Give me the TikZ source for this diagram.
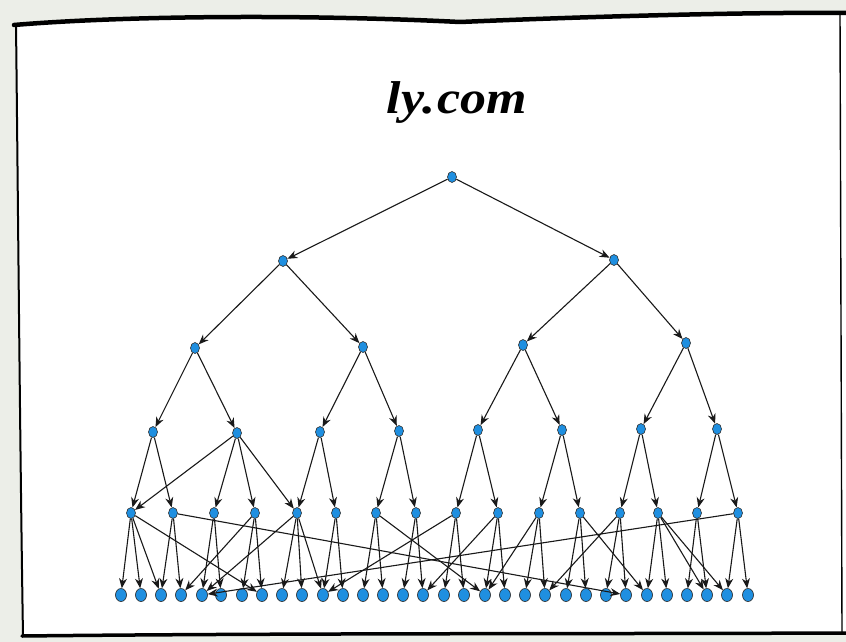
\documentclass[tikz,border=0pt]{standalone}
\usepackage{graphicx}
\usepackage{fontspec}
\newfontfamily\titlefont{Liberation Serif}
\usetikzlibrary{arrows.meta,shapes.geometric}
\definecolor{nodeblue}{HTML}{1F8FE0}
\definecolor{outerbg}{HTML}{ECEEE8}
\begin{document}
\begin{tikzpicture}[x=1pt,y=-1pt,
  vtx/.style={ellipse, draw=black!85, line width=0.6pt, fill=nodeblue, inner sep=0pt, minimum width=9pt, minimum height=11pt},
  leaf/.style={vtx, minimum width=11pt, minimum height=13pt},
  edge/.style={-{Stealth[length=10pt,width=8pt]}, line width=1.1pt, black!90},
  frameline/.style={black, line cap=round, line join=round}]
\useasboundingbox (0,0) rectangle (846,642);
\fill[outerbg] (0,0) rectangle (846,642);
\fill[white] (16,24) .. controls (120,16) and (300,14) .. (460,22) .. controls (600,16) and (760,12) .. (846,13) -- (846,634) -- (23,637) -- cycle;
% frame
\draw[frameline, line width=4.5pt] (14,25) .. controls (120,16) and (300,14) .. (460,22) .. controls (600,16) and (760,12) .. (846,13);
\draw[frameline, line width=2pt] (16,24) .. controls (18,200) and (20,450) .. (23,636);
\draw[frameline, line width=3.5pt] (22,636) .. controls (300,633) and (600,634) .. (846,633);
\draw[frameline, line width=1.4pt] (840,14) -- (842,632);
% title
\node (title) at (457,103) {\scalebox{1.3}[1.15]{\fontsize{40}{48}\selectfont\titlefont\bfseries\itshape ly.\kern2pt com}};
% nodes
\node[vtx] (r) at (452,177) {};
\node[vtx] (a1) at (283,261) {};
\node[vtx] (a2) at (614,260) {};
\foreach \x/\y [count=\i] in {195/348,363/347,523/345,686/343}
  \node[vtx] (b\i) at (\x,\y) {};
\foreach \x/\y [count=\i] in {153/432,237/433,320/432,399/431,478/430,562/430,641/429,717/429}
  \node[vtx] (c\i) at (\x,\y) {};
\foreach \x [count=\i] in {131,173,214,255,297,336,376,416,456,498,539,580,620,658,697,738}
  \node[vtx] (d\i) at (\x,513) {};
\foreach \x [count=\i] in {121,141,161,181,202,221,242,262,282,302,323,343,363,383,403,423,444,464,485,505,525,545,566,586,606,626,647,667,687,707,727,748}
  \node[leaf] (e\i) at (\x,595) {};
% tree edges
\draw[edge] (r) -- (a1);
\draw[edge] (r) -- (a2);
\draw[edge] (a1) -- (b1);
\draw[edge] (a1) -- (b2);
\draw[edge] (a2) -- (b3);
\draw[edge] (a2) -- (b4);
\foreach \i in {1,...,4}{
  \pgfmathtruncatemacro{\ja}{2*\i-1}
  \pgfmathtruncatemacro{\jb}{2*\i}
  \draw[edge] (b\i) -- (c\ja);
  \draw[edge] (b\i) -- (c\jb);
}
\foreach \i in {1,...,8}{
  \pgfmathtruncatemacro{\ja}{2*\i-1}
  \pgfmathtruncatemacro{\jb}{2*\i}
  \draw[edge] (c\i) -- (d\ja);
  \draw[edge] (c\i) -- (d\jb);
}
\foreach \i in {1,...,16}{
  \pgfmathtruncatemacro{\ja}{2*\i-1}
  \pgfmathtruncatemacro{\jb}{2*\i}
  \draw[edge] (d\i) -- (e\ja);
  \draw[edge] (d\i) -- (e\jb);
}
% cross edges
\draw[edge] (c2) -- (d1);
\draw[edge] (c2) -- (d5);
\foreach \s/\t in {d1/e3,d1/e8,d2/e26,d4/e4,d5/e5,d5/e11,d7/e19,d9/e11,d10/e16,d11/e19,d12/e27,d13/e22,d14/e30,d14/e31,d16/e5}
  \draw[edge] (\s) -- (\t);
\end{tikzpicture}
\end{document}
